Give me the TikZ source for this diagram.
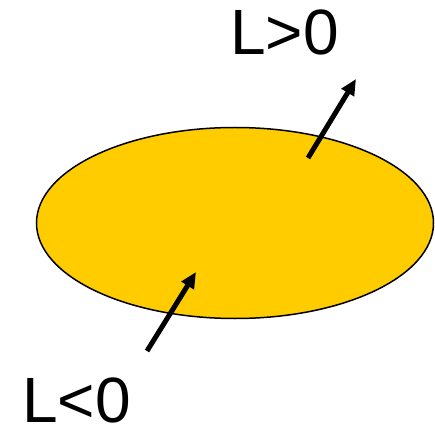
\documentclass[tikz,border=0pt]{standalone}
\usepackage{fontspec}
\setmainfont{Liberation Sans}
\usetikzlibrary{shapes.geometric,arrows.meta}
\definecolor{gold}{HTML}{FFCC00}
\tikzset{
  lbl/.style={inner sep=0pt, anchor=base west, font=\fontsize{64}{64}\selectfont},
  arr/.style={line width=5pt, -{Triangle[length=16pt,width=14pt]}},
}
\begin{document}
\begin{tikzpicture}[x=1pt,y=-1pt]
\useasboundingbox (0,0) rectangle (435,427);
\node[ellipse, draw, line width=1.5pt, fill=gold, minimum width=397pt, minimum height=191pt, inner sep=0pt] (ell) at (235,223) {};
\coordinate (t1) at (308,158);
\coordinate (h1) at (356,79);
\coordinate (t2) at (147,351);
\coordinate (h2) at (196,272);
\draw[arr] (t1) -- (h1);
\draw[arr] (t2) -- (h2);
\node[lbl] (lpos) at (230,55) {L>0};
\node[lbl] (lneg) at (22,422) {L<0};
\end{tikzpicture}
\end{document}
